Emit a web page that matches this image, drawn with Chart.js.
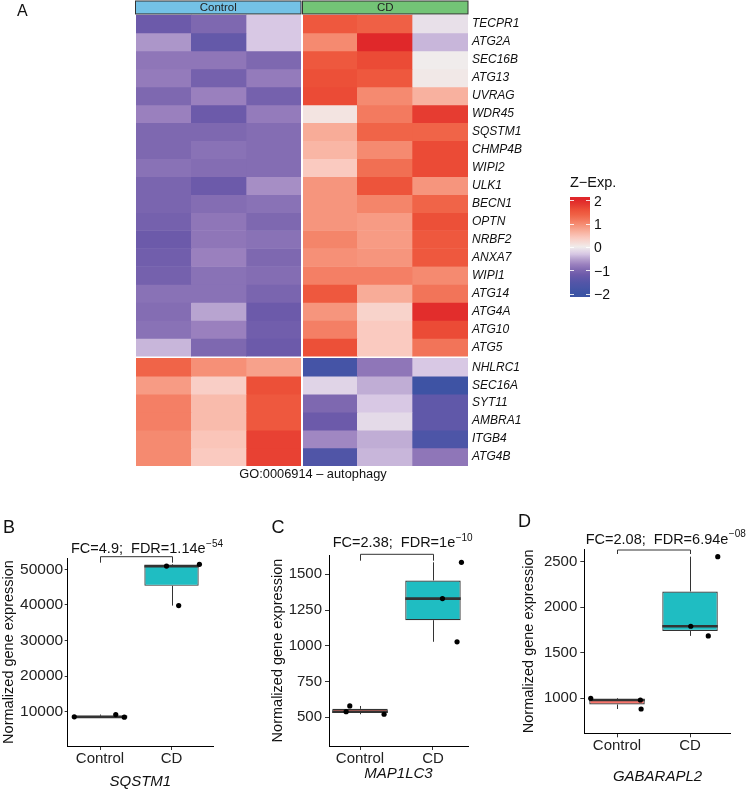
<!DOCTYPE html>
<html>
<head>
<meta charset="utf-8">
<script src="https://cdn.jsdelivr.net/npm/chart.js@4.4.1/dist/chart.umd.min.js"></script>
<style>
  body { margin: 0; background: #fff; }
  #wrap { position: relative; width: 747px; height: 789px; overflow: hidden; }
  canvas { position: absolute; }
</style>
</head>
<body>
<div id="wrap">
  <canvas id="heat" width="747" height="500" style="left:0;top:0"></canvas>
  <canvas id="boxB" width="245" height="279" style="left:0;top:510px"></canvas>
  <canvas id="boxC" width="245" height="279" style="left:245px;top:510px"></canvas>
  <canvas id="boxD" width="257" height="279" style="left:490px;top:510px"></canvas>
</div>
<script>
// ---- heatmap data (z-scored expression) ----
const genes = ['TECPR1', 'ATG2A', 'SEC16B', 'ATG13', 'UVRAG', 'WDR45', 'SQSTM1', 'CHMP4B', 'WIPI2',
    'ULK1', 'BECN1', 'OPTN', 'NRBF2', 'ANXA7', 'WIPI1', 'ATG14', 'ATG4A', 'ATG10', 'ATG5',
    'NHLRC1', 'SEC16A', 'SYT11', 'AMBRA1', 'ITGB4', 'ATG4B'];
const clusterBreak = 19;
const samples = ['Control 1', 'Control 2', 'Control 3', 'CD 1', 'CD 2', 'CD 3'];
const zCtrl1 = [-1.2, -0.6, -0.85, -0.8, -1.0, -0.75, -1.0, -1.0, -0.9, -1.05, -1.05, -1.1, -1.2, -1.15, -1.1, -0.9, -0.95, -0.9, -0.4, 1.35, 0.85, 1.1, 1.1, 1.0, 1.0];
const zCtrl2 = [-1.0, -1.3, -0.85, -1.1, -0.75, -1.2, -1.0, -0.9, -0.95, -1.2, -0.95, -0.85, -0.85, -0.75, -0.9, -0.9, -0.5, -0.75, -1.0, 0.95, 0.35, 0.55, 0.55, 0.45, 0.4];
const zCtrl3 = [-0.3, -0.3, -1.0, -0.8, -1.1, -0.8, -0.95, -0.95, -0.95, -0.65, -0.9, -1.0, -0.9, -1.0, -0.95, -1.05, -1.2, -1.15, -1.2, 0.8, 1.6, 1.5, 1.5, 1.75, 1.75];
const zCD1 = [1.5, 1.0, 1.5, 1.6, 1.65, 0.1, 0.7, 0.6, 0.4, 0.9, 0.9, 0.9, 1.05, 0.95, 1.1, 1.5, 0.9, 1.1, 1.6, -1.8, -0.2, -1.0, -1.2, -0.7, -1.6];
const zCD2 = [1.4, 2.0, 1.65, 1.5, 1.0, 1.15, 1.35, 1.0, 1.25, 1.55, 1.05, 0.85, 0.85, 0.9, 1.1, 0.7, 0.3, 0.4, 0.4, -0.85, -0.45, -0.3, -0.15, -0.45, -0.4];
const zCD3 = [-0.1, -0.4, 0.0, 0.05, 0.65, 1.8, 1.35, 1.65, 1.65, 0.9, 1.35, 1.6, 1.5, 1.5, 1.0, 1.2, 1.95, 1.65, 1.2, -0.3, -1.95, -1.35, -1.35, -1.65, -0.85];
const legendTicks = [2, 1, 0, -1, -2];

// ---- boxplot data (normalized counts, one point per sample) ----
const groups = ['Control', 'CD'];
const sqstm1Control = [8550, 9200, 8450];
const sqstm1CD = [50900, 51400, 39800];
const map1lc3Control = [539, 579, 521];
const map1lc3CD = [1330, 1584, 1028];
const gabarapl2Control = [1000, 981, 882];
const gabarapl2CD = [1791, 2555, 1685];
// horizontal jitter of the points, in group units
const sqstm1ControlJit = [-0.36, 0.22, 0.34];
const sqstm1CDJit = [-0.07, 0.39, 0.1];
const map1lc3ControlJit = [-0.19, -0.14, 0.33];
const map1lc3CDJit = [0.13, 0.39, 0.33];
const gabarapl2ControlJit = [-0.36, 0.32, 0.33];
const gabarapl2CDJit = [0.01, 0.38, 0.25];
const sqstm1Ticks = [10000, 20000, 30000, 40000, 50000];
const map1lc3Ticks = [500, 750, 1000, 1250, 1500];
const gabarapl2Ticks = [1000, 1500, 2000, 2500];

const FONT = '"Liberation Sans", Arial, sans-serif';
Chart.defaults.font.family = FONT;
Chart.defaults.color = '#222';

// diverging blue - purple - white - red palette
const zStops = [
    [-2, [59, 83, 164]], [-1.5, [85, 86, 168]], [-1.2, [108, 90, 170]], [-1, [126, 104, 176]],
    [-0.75, [154, 128, 190]], [-0.5, [184, 164, 208]], [-0.3, [216, 200, 228]], [0, [240, 236, 236]],
    [0.4, [250, 202, 192]], [0.7, [248, 172, 152]], [1, [245, 138, 112]], [1.35, [240, 100, 72]],
    [1.6, [236, 80, 56]], [2, [224, 40, 42]]
];
function zColor(z) {
    z = Math.max(-2, Math.min(2, z));
    for (let i = 1; i < zStops.length; i++) {
        const [z1, c1] = zStops[i];
        const [z0, c0] = zStops[i - 1];
        if (z <= z1) {
            const t = (z - z0) / (z1 - z0);
            const c = c0.map((v, k) => Math.round(v + t * (c1[k] - v)));
            return `rgb(${c[0]},${c[1]},${c[2]})`;
        }
    }
    return 'rgb(224,40,42)';
}

const ROW_GAP = 0.11;
function rowTop(i) { return i < clusterBreak ? i : i + ROW_GAP; }

const zCols = [zCtrl1, zCtrl2, zCtrl3, zCD1, zCD2, zCD3];

const heatDecor = {
    id: 'heatDecor',
    afterDatasetsDraw(chart) {
        const { ctx, chartArea: a, scales: { x, y } } = chart;
        const split = (x.getPixelForValue(2) + x.getPixelForValue(3)) / 2;
        const rowsTop = y.getPixelForValue(0);
        const rowsBot = y.getPixelForValue(rowTop(genes.length - 1) + 1);
        ctx.save();
        ctx.fillStyle = '#fff';
        ctx.fillRect(split - 1, rowsTop - 1, 2, rowsBot - rowsTop + 2);

        // sample group annotation bar
        const aTop = y.getPixelForValue(-0.78), aBot = y.getPixelForValue(-0.06);
        const bars = [[a.left - 0.5, split - 1, '#74C2E6', 'Control'], [split + 0.5, a.right, '#73C476', 'CD']];
        bars.forEach(([l, r, col, txt]) => {
            ctx.fillStyle = col;
            ctx.fillRect(l, aTop, r - l, aBot - aTop);
            ctx.strokeStyle = '#333';
            ctx.lineWidth = 1;
            ctx.strokeRect(l, aTop, r - l, aBot - aTop);
            ctx.fillStyle = '#222';
            ctx.font = '11.5px ' + FONT;
            ctx.textAlign = 'center';
            ctx.textBaseline = 'middle';
            ctx.fillText(txt, (l + r) / 2, (aTop + aBot) / 2 + 0.5);
        });

        // gene names
        ctx.fillStyle = '#111';
        ctx.font = 'italic 12px ' + FONT;
        ctx.textAlign = 'left';
        genes.forEach((g, i) => ctx.fillText(g, a.right + 4, y.getPixelForValue(rowTop(i) + 0.5)));

        ctx.font = '12.8px ' + FONT;
        ctx.textAlign = 'center';
        ctx.fillText('GO:0006914 \u2013 autophagy', split + 11, rowsBot + 8.5);

        // colour key
        const lx = 570, lw = 20, lTop = 197, lBot = 297, vTop = 2.15;
        const vy = v => lTop + (vTop - v) / (2 * vTop) * (lBot - lTop);
        const grad = ctx.createLinearGradient(0, lTop, 0, lBot);
        for (let k = 0; k <= 40; k++) {
            const v = vTop - k / 40 * 2 * vTop;
            grad.addColorStop(k / 40, zColor(v));
        }
        ctx.fillStyle = grad;
        ctx.fillRect(lx, lTop, lw, lBot - lTop);
        ctx.strokeStyle = 'rgba(255,255,255,0.85)';
        ctx.lineWidth = 1;
        legendTicks.forEach(v => {
            const py = Math.round(vy(v)) + 0.5;
            ctx.beginPath();
            ctx.moveTo(lx, py); ctx.lineTo(lx + 4, py);
            ctx.moveTo(lx + lw - 4, py); ctx.lineTo(lx + lw, py);
            ctx.stroke();
        });
        ctx.fillStyle = '#111';
        ctx.font = '14px ' + FONT;
        ctx.textAlign = 'left';
        ctx.textBaseline = 'middle';
        legendTicks.forEach(v => ctx.fillText(v < 0 ? '\u2212' + (-v) : String(v), lx + lw + 4, vy(v) + 1.5));
        ctx.font = '14.5px ' + FONT;
        ctx.fillText('Z\u2212Exp.', lx, 183);

        ctx.font = '16px ' + FONT;
        ctx.fillText('A', 17, 12);
        ctx.restore();
    }
};

new Chart(document.getElementById('heat'), {
    type: 'bar',
    data: {
        labels: samples,
        datasets: genes.map((g, i) => ({
            label: g,
            data: zCols.map(() => [rowTop(i), rowTop(i) + 1]),
            backgroundColor: zCols.map(col => zColor(col[i])),
            borderWidth: 0,
            barPercentage: 1,
            categoryPercentage: 1,
            grouped: false
        }))
    },
    options: {
        responsive: false,
        animation: false,
        layout: { padding: { left: 136, right: 279, top: 0, bottom: 34 } },
        plugins: { legend: { display: false }, tooltip: { enabled: false } },
        scales: {
            x: { display: false },
            y: { display: false, min: -0.836, max: rowTop(genes.length - 1) + 1, reverse: true }
        }
    },
    plugins: [heatDecor]
});

// ---- boxplots ----
function quantile(sorted, p) {
    const h = (sorted.length - 1) * p, lo = Math.floor(h), hi = Math.ceil(h);
    return sorted[lo] + (h - lo) * (sorted[hi] - sorted[lo]);
}
function boxStats(vals) {
    const s = vals.slice().sort((a, b) => a - b);
    return { min: s[0], q1: quantile(s, 0.25), med: quantile(s, 0.5), q3: quantile(s, 0.75), max: s[s.length - 1] };
}

const panels = [
    { id: 'boxB', letter: 'B', gene: 'SQSTM1', control: sqstm1Control, cd: sqstm1CD,
      controlJit: sqstm1ControlJit, cdJit: sqstm1CDJit, ticks: sqstm1Ticks,
      yMin: 365, yMax: 53170, xMin: 0.548, xMax: 2.58, fc: '4.9', fdr: '1.14', fdrExp: '\u221254',
      pad: { left: 1.75, right: 32, top: 48, bottom: 0 }, yAxisW: 65.95, xAxisH: 43,
      tickLen: 3, tickPad: 1.5, tickSize: 15.5, titleX: 71, titleY: 39, bracketY: 46.7, bracketDrop: 6,
      letterX: 3, letterY: 18.5 },
    { id: 'boxC', letter: 'C', gene: 'MAP1LC3', control: map1lc3Control, cd: map1lc3CD,
      controlJit: map1lc3ControlJit, cdJit: map1lc3CDJit, ticks: map1lc3Ticks,
      yMin: 299, yMax: 1635, xMin: 0.575, xMax: 2.48, fc: '2.38', fdr: '1', fdrExp: '\u221210',
      pad: { left: 25.45, right: 22, top: 45, bottom: 8 }, yAxisW: 58.55, xAxisH: 35,
      tickLen: 4, tickPad: 3, tickSize: 15, titleX: 87.7, titleY: 33, bracketY: 44.3, bracketDrop: 6.4,
      letterX: 26.5, letterY: 18.5 },
    { id: 'boxD', letter: 'D', gene: 'GABARAPL2', control: gabarapl2Control, cd: gabarapl2CD,
      controlJit: gabarapl2ControlJit, cdJit: gabarapl2CDJit, ticks: gabarapl2Ticks,
      yMin: 615, yMax: 2636, xMin: 0.552, xMax: 2.557, fc: '2.08', fdr: '6.94', fdrExp: '\u221208',
      pad: { left: 32.05, right: 16.3, top: 39.3, bottom: 4.8 }, yAxisW: 62.25, xAxisH: 50.9,
      tickLen: 4, tickPad: 3, tickSize: 15, titleX: 95.7, titleY: 29.5, bracketY: 40, bracketDrop: 4,
      letterX: 28, letterY: 12.5 }
];

function boxDecor(p, stats) {
    return {
        id: 'boxDecor',
        beforeDatasetsDraw(chart) {
            const { ctx, scales: { x, y } } = chart;
            ctx.save();
            ctx.strokeStyle = '#333';
            ctx.lineWidth = 1;
            stats.forEach((s, i) => {
                const px = Math.round(x.getPixelForValue(i + 1)) + 0.5;
                ctx.beginPath();
                ctx.moveTo(px, y.getPixelForValue(s.q3)); ctx.lineTo(px, y.getPixelForValue(s.max));
                ctx.moveTo(px, y.getPixelForValue(s.q1)); ctx.lineTo(px, y.getPixelForValue(s.min));
                ctx.stroke();
            });
            ctx.restore();
        },
        afterDatasetDraw(chart, args) {
            if (args.index !== 1) return;
            const { ctx, scales: { y } } = chart;
            ctx.save();
            ctx.strokeStyle = '#333';
            ctx.lineWidth = 2.6;
            args.meta.data.forEach((el, i) => {
                const py = y.getPixelForValue(stats[i].med);
                ctx.beginPath();
                ctx.moveTo(el.x - el.width / 2, py); ctx.lineTo(el.x + el.width / 2, py);
                ctx.stroke();
            });
            ctx.restore();
        },
        afterDraw(chart) {
            const { ctx, scales: { x } } = chart;
            ctx.save();
            ctx.fillStyle = '#111';
            ctx.textBaseline = 'middle';
            ctx.textAlign = 'left';
            ctx.font = '18px ' + FONT;
            ctx.fillText(p.letter, p.letterX, p.letterY);
            const main = `FC=${p.fc};  FDR=${p.fdr}e`;
            ctx.font = '14.5px ' + FONT;
            ctx.fillText(main, p.titleX, p.titleY);
            const w = ctx.measureText(main).width;
            ctx.font = '10px ' + FONT;
            ctx.fillText(p.fdrExp, p.titleX + w + 0.5, p.titleY - 5);
            // comparison bracket
            const x1 = Math.round(x.getPixelForValue(1)) + 0.5, x2 = Math.round(x.getPixelForValue(2)) + 0.5;
            ctx.strokeStyle = '#333';
            ctx.lineWidth = 1;
            ctx.beginPath();
            ctx.moveTo(x1, p.bracketY + p.bracketDrop);
            ctx.lineTo(x1, p.bracketY);
            ctx.lineTo(x2, p.bracketY);
            ctx.lineTo(x2, p.bracketY + p.bracketDrop);
            ctx.stroke();
            ctx.restore();
        }
    };
}

panels.forEach(p => {
    const stats = [boxStats(p.control), boxStats(p.cd)];
    const points = p.control.map((v, i) => ({ x: 1 + p.controlJit[i], y: v }))
        .concat(p.cd.map((v, i) => ({ x: 2 + p.cdJit[i], y: v })));
    new Chart(document.getElementById(p.id), {
        type: 'bar',
        data: {
            datasets: [
                {
                    type: 'scatter',
                    data: points,
                    pointRadius: 2.6,
                    pointBackgroundColor: '#000',
                    pointBorderWidth: 0,
                    order: 0
                },
                {
                    type: 'bar',
                    data: stats.map((s, i) => ({ x: i + 1, y: [s.q1, s.q3] })),
                    backgroundColor: ['#F8766D', '#1FBDC2'],
                    borderColor: '#333',
                    borderWidth: 1.2,
                    borderSkipped: false,
                    barPercentage: 0.76,
                    categoryPercentage: 1,
                    grouped: false,
                    order: 1
                }
            ]
        },
        options: {
            responsive: false,
            animation: false,
            layout: { padding: p.pad },
            plugins: { legend: { display: false }, tooltip: { enabled: false } },
            scales: {
                x: {
                    type: 'linear',
                    min: p.xMin,
                    max: p.xMax,
                    offset: false,
                    afterBuildTicks: s => { s.ticks = [{ value: 1 }, { value: 2 }]; },
                    afterFit: s => { s.height = p.xAxisH; },
                    ticks: { callback: v => groups[v - 1], font: { size: 15 }, color: '#222', padding: 0, autoSkip: false, maxRotation: 0 },
                    grid: { display: true, offset: false, drawOnChartArea: false, tickLength: 4, color: '#333' },
                    border: { display: true, color: '#000', width: 1 },
                    title: { display: true, text: p.gene, color: '#111', padding: 0, font: { size: 15, style: 'italic', lineHeight: 1 } }
                },
                y: {
                    type: 'linear',
                    min: p.yMin,
                    max: p.yMax,
                    afterBuildTicks: s => { s.ticks = p.ticks.map(v => ({ value: v })); },
                    afterFit: s => { s.width = p.yAxisW; },
                    ticks: { callback: v => String(v), font: { size: p.tickSize }, color: '#222', padding: p.tickPad, autoSkip: false },
                    grid: { display: true, drawOnChartArea: false, tickLength: p.tickLen, color: '#333' },
                    border: { display: true, color: '#000', width: 1 },
                    title: { display: true, text: 'Normalized gene expression', color: '#111', padding: 0, font: { size: 14.5, lineHeight: 1 } }
                }
            }
        },
        plugins: [boxDecor(p, stats)]
    });
});
</script>
</body>
</html>
